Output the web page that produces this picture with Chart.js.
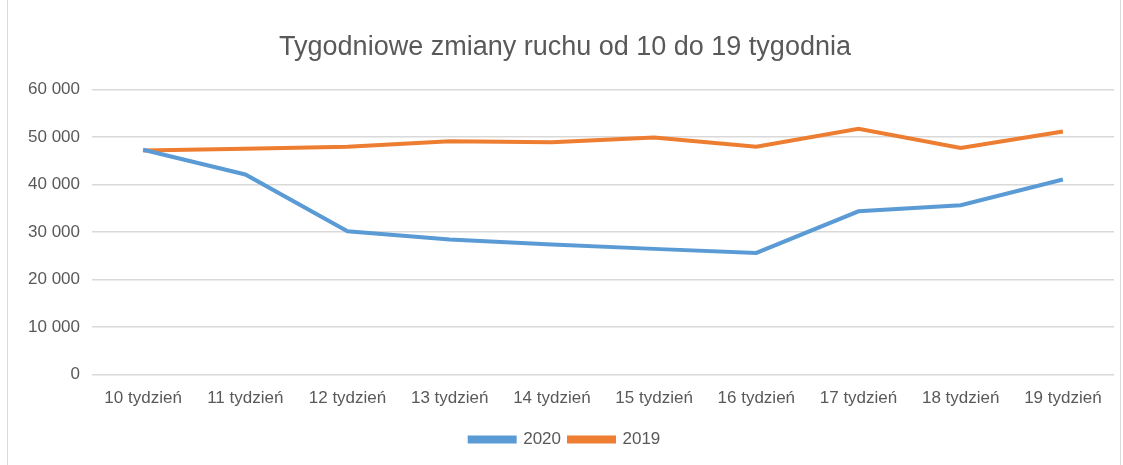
<!DOCTYPE html>
<html>
<head>
<meta charset="utf-8">
<script src="https://cdn.jsdelivr.net/npm/chart.js@4/dist/chart.umd.min.js"></script>
<style>
  html, body { margin: 0; padding: 0; background: #fff; }
  #wrap { position: absolute; left: 7px; top: -1px; width: 1114px; height: 467px; border: 1px solid #d9d9d9; box-sizing: border-box; }
  #c { position: absolute; left: 0; top: 0; }
</style>
</head>
<body>
<div id="wrap"></div>
<canvas id="c" width="1123" height="465"></canvas>
<script>
var weeks = ['10 tydzień', '11 tydzień', '12 tydzień', '13 tydzień', '14 tydzień',
             '15 tydzień', '16 tydzień', '17 tydzień', '18 tydzień', '19 tydzień'];
var traffic2020 = [47300, 42100, 30150, 28400, 27350, 26450, 25600, 34350, 35650, 41050];
var traffic2019 = [47150, 47500, 47950, 49100, 48900, 49900, 47950, 51700, 47700, 51150];
var yTicks = [0, 10000, 20000, 30000, 40000, 50000, 60000];

var grey = '#595959';
var font = 'Liberation Sans';

function fmt(v) {
    return String(v).replace(/\B(?=(\d{3})+(?!\d))/g, ' ');
}

var context = document.getElementById('c').getContext('2d');
var chart = new Chart(context, {
    type: 'line',
    data: {
        labels: weeks,
        datasets: [
            {
                label: '2020',
                data: traffic2020,
                borderColor: '#5b9bd5',
                backgroundColor: '#5b9bd5',
                borderWidth: 4,
                pointRadius: 0,
                tension: 0
            },
            {
                label: '2019',
                data: traffic2019,
                borderColor: '#ed7d31',
                backgroundColor: '#ed7d31',
                borderWidth: 4,
                pointRadius: 0,
                tension: 0
            }
        ]
    },
    options: {
        responsive: false,
        animation: false,
        layout: { padding: { left: 16, right: 9, top: 10, bottom: 7 } },
        plugins: {
            title: {
                display: true,
                text: 'Tygodniowe zmiany ruchu od 10 do 19 tygodnia',
                color: grey,
                font: { family: font, size: 27, weight: 'normal' },
                padding: { top: 21, bottom: 26 }
            },
            legend: {
                position: 'bottom',
                labels: {
                    color: grey,
                    font: { family: font, size: 17 },
                    boxWidth: 45,
                    boxHeight: 4,
                    padding: 8
                }
            },
            tooltip: { enabled: false }
        },
        scales: {
            x: {
                offset: true,
                grid: { display: false, drawTicks: false },
                border: { display: false },
                ticks: {
                    color: grey,
                    font: { family: font, size: 17 },
                    padding: 14,
                    maxRotation: 0,
                    autoSkip: false
                }
            },
            y: {
                min: 0,
                max: 60000,
                afterBuildTicks: function(axis) {
                    axis.ticks = yTicks.map(function(v) { return { value: v }; });
                },
                grid: { color: '#d9d9d9', lineWidth: 1.5, drawTicks: false },
                border: { display: false },
                ticks: {
                    color: grey,
                    font: { family: font, size: 17 },
                    padding: 12,
                    callback: function(v) { return fmt(v); }
                }
            }
        }
    }
});
</script>
</body>
</html>
